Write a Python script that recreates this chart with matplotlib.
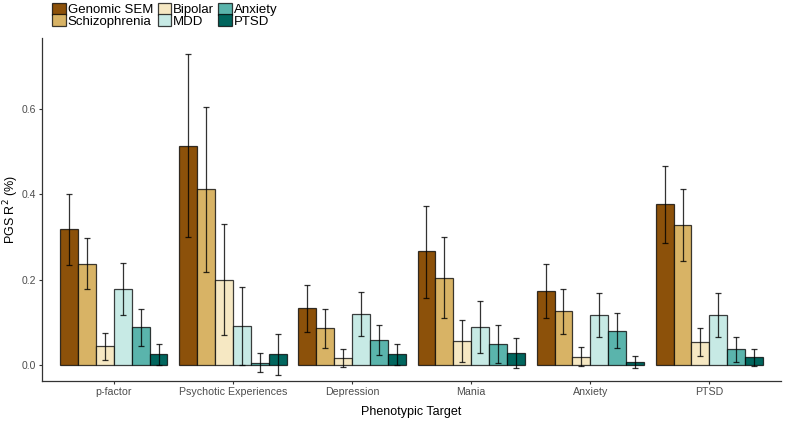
import numpy as np
import matplotlib.pyplot as plt

plt.rcParams['font.family'] = ['Liberation Sans', 'DejaVu Sans']

# phenotypic targets (x groups) and predictor PGS (bars within group)
targets = ["p-factor", "Psychotic Experiences", "Depression", "Mania", "Anxiety", "PTSD"]
predictors = ["Genomic SEM", "Schizophrenia", "Bipolar", "MDD", "Anxiety", "PTSD"]
colors = ["#8C510A", "#D8B365", "#F6E8C3", "#C7EAE5", "#5AB4AC", "#01665E"]

# R2 estimates, one row per predictor, columns follow targets
r2 = {
    "Genomic SEM":   [0.318, 0.514, 0.133, 0.266, 0.174, 0.376],
    "Schizophrenia": [0.237, 0.411, 0.086, 0.204, 0.126, 0.327],
    "Bipolar":       [0.044, 0.200, 0.016, 0.056, 0.019, 0.054],
    "MDD":           [0.177, 0.091, 0.119, 0.089, 0.117, 0.117],
    "Anxiety":       [0.089, 0.005, 0.058, 0.050, 0.080, 0.037],
    "PTSD":          [0.025, 0.025, 0.026, 0.027, 0.006, 0.018],
}
upper = {
    "Genomic SEM":   [0.401, 0.729, 0.188, 0.373, 0.237, 0.466],
    "Schizophrenia": [0.298, 0.604, 0.130, 0.299, 0.179, 0.412],
    "Bipolar":       [0.076, 0.330, 0.038, 0.105, 0.041, 0.087],
    "MDD":           [0.238, 0.182, 0.170, 0.150, 0.168, 0.168],
    "Anxiety":       [0.132, 0.027, 0.093, 0.094, 0.121, 0.066],
    "PTSD":          [0.049, 0.073, 0.050, 0.063, 0.020, 0.038],
}
lower = {
    "Genomic SEM":   [0.234, 0.299, 0.077, 0.157, 0.111, 0.285],
    "Schizophrenia": [0.178, 0.217, 0.040, 0.110, 0.072, 0.243],
    "Bipolar":       [0.012, 0.070, -0.005, 0.006, -0.002, 0.020],
    "MDD":           [0.116, 0.000, 0.068, 0.028, 0.066, 0.066],
    "Anxiety":       [0.045, -0.017, 0.023, 0.005, 0.039, 0.007],
    "PTSD":          [0.000, -0.023, 0.000, -0.008, -0.007, -0.002],
}

fig = plt.figure(figsize=(8, 4.21), dpi=100)
ax = fig.add_axes([0.053, 0.095, 0.923, 0.815])

x = np.arange(len(targets)) + 1
width = 0.9 / len(predictors)

for i, (name, col) in enumerate(zip(predictors, colors)):
    pos = x - 0.45 + width * (i + 0.5)
    vals = np.array(r2[name])
    err = [vals - np.array(lower[name]), np.array(upper[name]) - vals]
    ax.bar(pos, vals, width=width, color=col, edgecolor=(0, 0, 0, 0.75),
           linewidth=0.9, label=name, zorder=2)
    ax.errorbar(pos, vals, yerr=err, fmt="none", ecolor=(0, 0, 0, 0.8),
                elinewidth=0.9, capsize=2, capthick=0.9, zorder=3)

ax.set_xlim(0.4, 6.6)
ax.set_ylim(-0.0375, 0.766)
ax.set_xticks(x)
ax.set_xticklabels(targets, fontsize=7.7, color="#4d4d4d")
ax.set_yticks([0.0, 0.2, 0.4, 0.6])
ax.set_yticklabels(["0.0", "0.2", "0.4", "0.6"], fontsize=7.5, color="#4d4d4d")
ax.tick_params(color="#333333", length=2.5, width=0.8, pad=2)
ax.set_xlabel("Phenotypic Target", fontsize=9)
ax.set_ylabel("PGS R$^2$ (%)", fontsize=9)
ax.xaxis.set_label_coords(0.5, -0.074)
ax.yaxis.set_label_coords(-0.029, 0.5)
for s in ["top", "right"]:
    ax.spines[s].set_visible(False)
for s in ["left", "bottom"]:
    ax.spines[s].set_color("#333333")
    ax.spines[s].set_linewidth(0.9)

fig.legend(loc="upper left", bbox_to_anchor=(0.059, 1.006), ncol=3,
           frameon=False, fontsize=9.5, handlelength=1.0, handleheight=1.0,
           handletextpad=0.15, columnspacing=0.35, labelspacing=-0.15,
           borderaxespad=0)

fig.savefig("out.png", dpi=100)
